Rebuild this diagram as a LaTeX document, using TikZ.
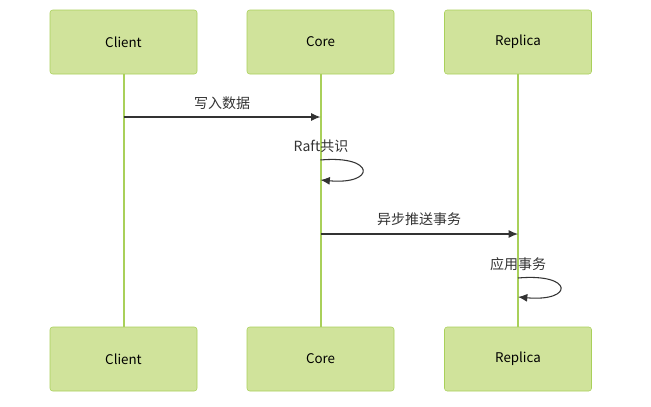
\documentclass[tikz,border=0pt]{standalone}
\usepackage{fontspec}
\setmainfont{Noto Sans CJK SC}
\usetikzlibrary{arrows.meta}
\definecolor{boxfill}{HTML}{D0E39B}
\definecolor{boxline}{HTML}{A9D05A}
\definecolor{txt}{HTML}{333333}
\begin{document}
\begin{tikzpicture}[x=0.75pt,y=-0.75pt,
  actor/.style={draw=boxline,fill=boxfill,rounded corners=2pt,minimum width=110.25pt,minimum height=48pt,inner sep=0pt,font=\fontsize{10}{12}\selectfont,text=black},
  life/.style={draw=boxline,line width=1.5pt},
  msg/.style={draw=txt,line width=0.8pt,-{Latex[length=7pt,width=6pt]}},
  lbl/.style={font=\fontsize{10.5}{12}\selectfont,text=txt}]
\useasboundingbox (0,0) rectangle (651,407);
\foreach \n/\x/\t in {c/123.5/Client,k/320.5/Core,r/518/Replica}{
  \node[actor] (\n t) at (\x,42) {\t};
  \node[actor] (\n b) at (\x,359) {\t};
  \draw[life] (\n t.south) -- (\n b.north);
}
\coordinate (m1s) at (123.5,117); \coordinate (m1e) at (320.5,117);
\draw[msg] (m1s) -- (m1e);
\node[lbl] (l1) at (222,103) {写入数据};
\node[lbl] (l2) at (321,146) {Raft共识};
\coordinate (s1a) at (320.5,160); \coordinate (s1b) at (320.5,180);
\draw[msg] (s1a) .. controls (376,155) and (376,185) .. (s1b);
\coordinate (m2s) at (320.5,234); \coordinate (m2e) at (518,234);
\draw[msg] (m2s) -- (m2e);
\node[lbl] (l3) at (419,219) {异步推送事务};
\node[lbl] (l4) at (518,264) {应用事务};
\coordinate (s2a) at (518,278); \coordinate (s2b) at (518,297);
\draw[msg] (s2a) .. controls (574,273) and (574,302) .. (s2b);
\end{tikzpicture}
\end{document}
